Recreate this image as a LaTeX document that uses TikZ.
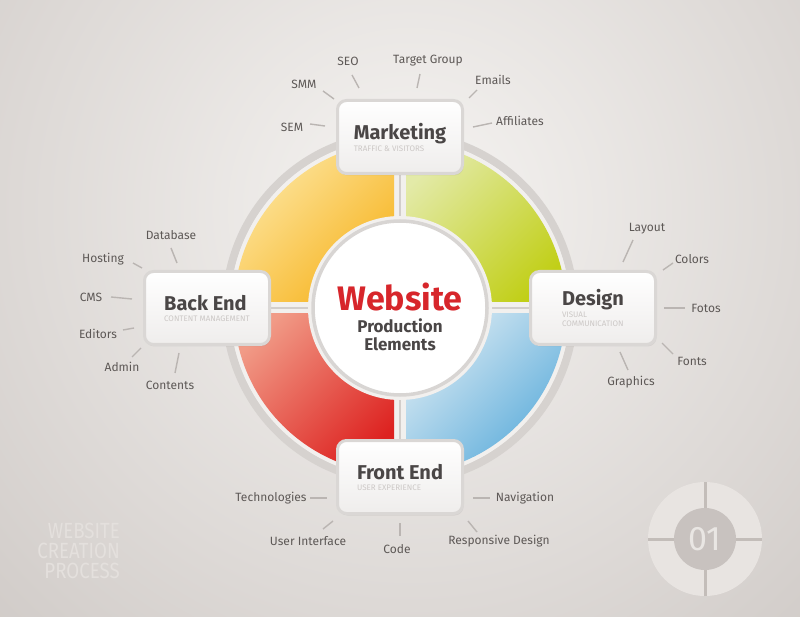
\documentclass[tikz,border=0pt]{standalone}
\usepackage{fontspec}
\setmainfont{Fira Sans}
\newfontfamily\thinfont[FakeStretch=0.85]{Fira Sans}
\usetikzlibrary{shadows}

\definecolor{bgin}{HTML}{F6F4F2}
\definecolor{bgout}{HTML}{BCB5B1}
\definecolor{ringgrey}{HTML}{D6D2CF}
\definecolor{discfill}{HTML}{F2F0EE}
\definecolor{yl}{HTML}{FDE8A6}
\definecolor{yd}{HTML}{F7B523}
\definecolor{gl}{HTML}{E3EAA8}
\definecolor{gd}{HTML}{C1CF17}
\definecolor{rl}{HTML}{F19B87}
\definecolor{rd}{HTML}{DD2220}
\definecolor{bl}{HTML}{D6E8F2}
\definecolor{bd}{HTML}{57AADA}
\definecolor{sepgrey}{HTML}{D2CECB}
\definecolor{coreline}{HTML}{D8D5D3}
\definecolor{boxline}{HTML}{DAD7D5}
\definecolor{boxfill}{HTML}{EFEDEC}
\definecolor{titlegrey}{HTML}{4A4646}
\definecolor{subgrey}{HTML}{CCC8C6}
\definecolor{webred}{HTML}{D7262B}
\definecolor{lblgrey}{HTML}{5D5856}
\definecolor{tickgrey}{HTML}{BAB5B2}
\definecolor{thintext}{HTML}{E4E0DD}
\definecolor{badgering}{HTML}{E8E4E1}
\definecolor{badgein}{HTML}{C8C2BF}
\definecolor{badgegap}{HTML}{C3BDB9}
\definecolor{numtext}{HTML}{E9E6E3}

\newcommand{\boxttl}[1]{{\fontsize{20}{21}\selectfont\bfseries\color{titlegrey}#1}}
\newcommand{\boxsub}[1]{{\fontsize{8}{9}\selectfont\color{subgrey}#1}}

\begin{document}
\begin{tikzpicture}[x=1pt, y=-1pt,
    box/.style={draw=boxline, line width=3pt, rounded corners=9pt, top color=white, bottom color=boxfill,
        minimum width=125pt, minimum height=73pt, align=left, font=\fontsize{8}{8.5}\selectfont,
        drop shadow={opacity=0.15, shadow xshift=1pt, shadow yshift=-2pt}},
    lbl/.style={font=\fontsize{12}{14}\selectfont, text=lblgrey, inner sep=1pt},
    tick/.style={tickgrey, line width=1.4pt},
    sep/.style={sepgrey, line width=2.5pt},
    thin/.style={font=\thinfont\fontsize{22}{20}\selectfont, text=thintext, inner sep=0pt}]

    \useasboundingbox (0,0) rectangle (800,617);
    \begin{scope}
        \clip (0,0) rectangle (800,617);
        \shade[inner color=bgin, outer color=bgout] (410,210) circle (920pt);
    \end{scope}

    \coordinate (mid) at (400,308);
    \coordinate (mktc) at (400,137);
    \coordinate (desc) at (593,308);
    \coordinate (bec) at (207,308);
    \coordinate (fec) at (400,477);

    \draw[ringgrey, line width=8pt] (mid) circle (174pt);
    \fill[discfill] (mid) circle (170pt);

    \begin{scope}
        \clip (mid) circle (166pt);
        \shade[top color=yl, bottom color=yd, shading angle=45] (230,140) rectangle (394,302);
        \shade[top color=gl, bottom color=gd, shading angle=45] (406,140) rectangle (570,302);
        \shade[top color=rl, bottom color=rd, shading angle=45] (230,314) rectangle (394,476);
        \shade[top color=bl, bottom color=bd, shading angle=45] (406,314) rectangle (570,476);
    \end{scope}

    \draw[sep] (mktc) -- (fec);
    \draw[sep] (bec) -- (desc);

    \fill[discfill] (mid) circle (92pt);
    \node[circle, draw=coreline, line width=3.5pt, fill=white, minimum size=174pt, inner sep=0pt] (core) at (mid) {};
    \node[font=\fontsize{34}{36}\selectfont\bfseries, text=webred, anchor=base] (web) at (400,311) {Website};
    \node[font=\fontsize{17}{18}\selectfont\bfseries, text=titlegrey, anchor=base] (prod) at (400,333) {Production};
    \node[font=\fontsize{17}{18}\selectfont\bfseries, text=titlegrey, anchor=base] (elem) at (400,350) {Elements};

    \node[box] (mkt) at (mktc) {\boxttl{Marketing}\\[1pt]\boxsub{TRAFFIC \& VISITORS}};
    \node[box] (des) at (desc) {\boxttl{Design}\\[1pt]\boxsub{VISUAL}\\\boxsub{COMMUNICATION}};
    \node[box] (be) at (bec) {\boxttl{Back End}\\[2.5pt]\boxsub{CONTENT MANAGEMENT}};
    \node[box] (fe) at (fec) {\boxttl{Front End}\\[2.5pt]\boxsub{USER EXPERIENCE}};

    \node[lbl] (seo) at (348,61) {SEO};
    \node[lbl] (target) at (428,61) {Target Group};
    \node[lbl] (smm) at (304,84) {SMM};
    \node[lbl] (emails) at (493,80) {Emails};
    \node[lbl] (sem) at (292,127) {SEM};
    \node[lbl] (affil) at (520,121) {Affiliates};
    \draw[tick] (352,75) -- (359,88);
    \draw[tick] (420,74) -- (417,88);
    \draw[tick] (323,91) -- (334,99);
    \draw[tick] (477,90) -- (469,98);
    \draw[tick] (310,124) -- (325,126);
    \draw[tick] (473,127) -- (492,123);

    \node[lbl] (layout) at (647,229) {Layout};
    \node[lbl] (colors) at (692,259) {Colors};
    \node[lbl] (fotos) at (706,308) {Fotos};
    \node[lbl] (fonts) at (692,361) {Fonts};
    \node[lbl] (graphics) at (631,382) {Graphics};
    \draw[tick] (633,240) -- (623,262);
    \draw[tick] (673,263) -- (663,270);
    \draw[tick] (664,308) -- (685,308);
    \draw[tick] (662,343) -- (673,354);
    \draw[tick] (620,352) -- (628,370);

    \node[lbl] (database) at (171,235) {Database};
    \node[lbl] (hosting) at (103,259) {Hosting};
    \node[lbl] (cms) at (91,297) {CMS};
    \node[lbl] (editors) at (98,334) {Editors};
    \node[lbl] (admin) at (122,367) {Admin};
    \node[lbl] (contents) at (170,385) {Contents};
    \draw[tick] (171,248) -- (177,263);
    \draw[tick] (133,263) -- (142,268);
    \draw[tick] (111,297) -- (132,299);
    \draw[tick] (123,330) -- (134,328);
    \draw[tick] (132,357) -- (141,348);
    \draw[tick] (175,373) -- (179,353);

    \node[lbl] (tech) at (271,498) {Technologies};
    \node[lbl] (navi) at (525,498) {Navigation};
    \node[lbl] (ui) at (308,541) {User Interface};
    \node[lbl] (code) at (397,549) {Code};
    \node[lbl] (resp) at (499,541) {Responsive Design};
    \draw[tick] (310,498) -- (327,498);
    \draw[tick] (473,498) -- (490,498);
    \draw[tick] (323,529) -- (333,521);
    \draw[tick] (400,523) -- (400,536);
    \draw[tick] (468,521) -- (477,532);

    \node[thin, anchor=base east] (w1) at (120,538) {WEBSITE};
    \node[thin, anchor=base east] (w2) at (120,558) {CREATION};
    \node[thin, anchor=base east] (w3) at (120,578) {PROCESS};

    \coordinate (badge) at (705,539);
    \fill[badgering] (badge) circle (57pt);
    \draw[badgegap, line width=3pt] ([xshift=-57pt]badge) -- ([xshift=57pt]badge);
    \draw[badgegap, line width=3pt] ([yshift=-57pt]badge) -- ([yshift=57pt]badge);
    \node[circle, fill=badgein, minimum size=62pt, inner sep=0pt, font=\fontsize{34}{34}\selectfont, text=numtext] (num) at (badge) {01};

\end{tikzpicture}
\end{document}
